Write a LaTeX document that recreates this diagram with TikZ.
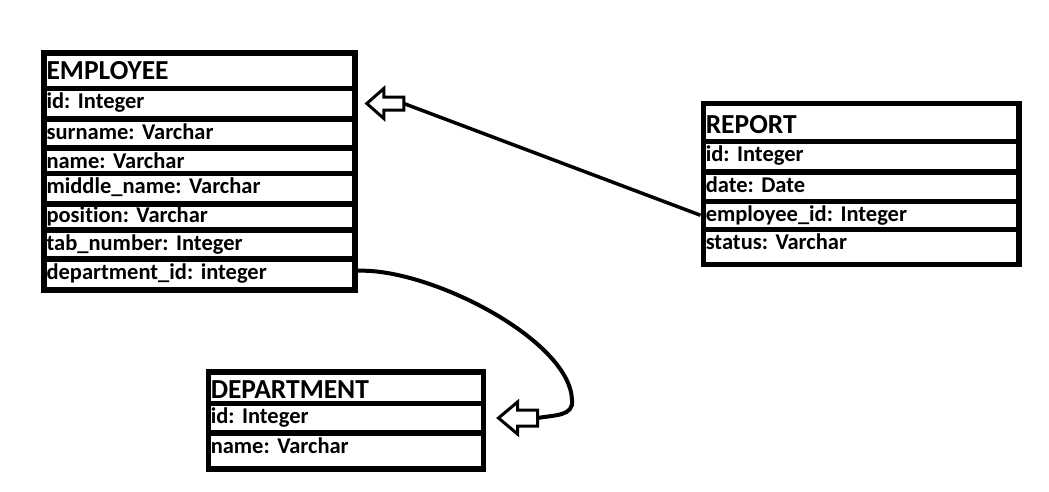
\documentclass[tikz,border=0pt]{standalone}
\usepackage{fontspec}
\setmainfont{Carlito}[Ligatures=NoCommon]
\frenchspacing
\usetikzlibrary{calc}

\tikzset{
	row/.style={draw, line width=5.5pt, anchor=north west, inner xsep=2.5pt, inner ysep=0pt, align=left,
		text height=20.5pt, text depth=#1, font=\bfseries\fontsize{22.5}{26}\selectfont},
	head/.style={row=#1, text height=27pt, font=\bfseries\fontsize{27.5}{31}\selectfont},
	link/.style={line width=3.5pt},
	harrow/.style={line width=3pt, line join=miter}
}

\begin{document}
\begin{tikzpicture}[x=1pt,y=-1pt]
	\useasboundingbox (0,0) rectangle (1049,491);
	
	% The EMPLOYEE table
	\begin{scope}[every node/.append style={text width=306pt}]
		\node[head=8.5pt] (emp) at (41.3,50) {EMPLOYEE};
		\node[row=10pt] (emp-id) at (41.3,85.5) {id: Integer};
		\node[row=8.5pt] (emp-surname) at (41.3,116) {surname: Varchar};
		\node[row=5pt] (emp-name) at (41.3,145) {name: Varchar};
		\node[row=10pt] (emp-middle) at (41.3,170.5) {middle\_name: Varchar};
		\node[row=7pt, text height=19pt] (emp-position) at (41.3,201) {position: Varchar};
		\node[row=8.5pt] (emp-tab) at (41.3,227) {tab\_number: Integer};
		\node[row=10.5pt] (emp-dept) at (41.3,256) {department\_id: integer};
	\end{scope}
	
	% The REPORT table
	\begin{scope}[every node/.append style={text width=310.5pt}]
		\node[head=8pt, text height=30pt] (rep) at (700.5,100.5) {REPORT};
		\node[row=10pt] (rep-id) at (700.5,138.5) {id: Integer};
		\node[row=9pt] (rep-date) at (700.5,169) {date: Date};
		\node[row=7.5pt] (rep-emp) at (700.5,198.5) {employee\_id: Integer};
		\node[row=14.5pt] (rep-status) at (700.5,226.5) {status: Varchar};
	\end{scope}
	
	% The DEPARTMENT table
	\begin{scope}[every node/.append style={text width=270pt}]
		\node[head=5pt, text height=26.5pt] (dep) at (205.5,369) {DEPARTMENT};
		\node[row=9pt] (dep-id) at (205.5,400.5) {id: Integer};
		\node[row=15.5pt] (dep-name) at (205.5,430) {name: Varchar};
	\end{scope}
	
	% The arrows
	\coordinate (tip1) at ($(emp-id.east)+(9,0)$);
	\coordinate (tail1) at ($(tip1)+(37,0)$);
	\draw[harrow] (tip1) -- ++(17,-15) -- ++(0,8.5) -- ++(20,0) -- ++(0,13) -- ++(-20,0) -- ++(0,8.5) -- cycle;
	\draw[link] (rep-emp.west) -- (tail1);
	
	\coordinate (tip2) at ($(dep-id.east)+(12.5,0)$);
	\coordinate (tail2) at ($(tip2)+(39,0)$);
	\draw[harrow] (tip2) -- ++(19,-16) -- ++(0,8) -- ++(20,0) -- ++(0,16) -- ++(-20,0) -- ++(0,8) -- cycle;
	\draw[link, line width=4pt] ([yshift=3.5pt]emp-dept.east) .. controls (430,268) and (570,340) .. (572,400)
		.. controls (574,416) and (555,415) .. (tail2);
\end{tikzpicture}
\end{document}
